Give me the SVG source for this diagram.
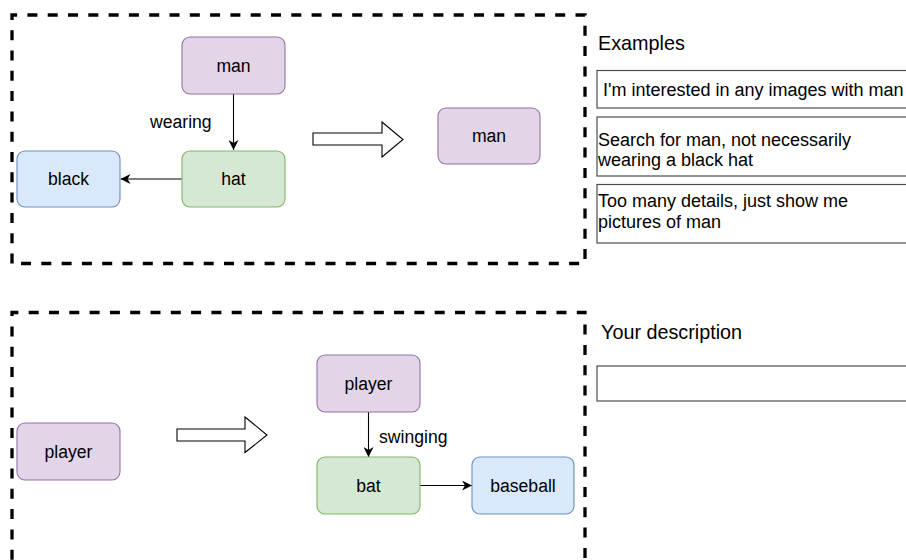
<svg xmlns="http://www.w3.org/2000/svg" width="906" height="560" viewBox="0 0 906 560">
<defs>
<marker id="arr" viewBox="0 0 10 10" refX="10" refY="5" markerWidth="10" markerHeight="10" markerUnits="userSpaceOnUse" orient="auto">
<path d="M0,0 L10,5 L0,10 L3,5 Z" fill="#000"/>
</marker>
<style>
text{font-family:"Liberation Sans",Arial,Helvetica,sans-serif;font-size:17.6px;fill:#000}
.c{text-anchor:middle}
.h{font-size:19.8px}
.s{font-size:18px}
.frame{fill:none;stroke:#000;stroke-width:3.3;stroke-dasharray:10 10.3}
.purple{fill:#e1d5e7;stroke:#9673a6;stroke-width:1.1}
.green{fill:#d5e8d4;stroke:#82b366;stroke-width:1.1}
.blue{fill:#dae8fc;stroke:#6c8ebf;stroke-width:1.1}
.tb{fill:#fff;stroke:#4d4d4d;stroke-width:1.2}
.edge{fill:none;stroke:#000;stroke-width:1.1;marker-end:url(#arr)}
.big{fill:#fff;stroke:#000;stroke-width:1.1}
</style>
</defs>
<rect width="906" height="560" fill="#fff"/>

<g id="frame-top"><path class="frame" d="M12,263.5 V15 H585 V263.5 Z"/></g>
<g id="frame-bottom"><path class="frame" d="M12,580 V312.5 H585 V580"/></g>

<g id="connectors">
<line class="edge" x1="233.5" y1="94" x2="233.5" y2="150"/>
<line class="edge" x1="182" y1="179" x2="120.5" y2="179"/>
<line class="edge" x1="368.5" y1="412" x2="368.5" y2="457"/>
<line class="edge" x1="420" y1="485.5" x2="472" y2="485.5"/>
<polygon class="big" points="313,133 382,133 382,122 403,139.5 382,157 382,145 313,145"/>
<polygon class="big" points="177,429 245,429 245,417 267,435 245,452.5 245,441 177,441"/>
<text x="150" y="128">wearing</text>
<text x="379" y="443">swinging</text>
</g>

<g id="node-man"><rect class="purple" x="182" y="37" width="103" height="57" rx="8"/><text class="c" x="233.5" y="71.5">man</text></g>
<g id="node-hat"><rect class="green" x="182" y="151" width="103" height="56" rx="8"/><text class="c" x="233.5" y="185">hat</text></g>
<g id="node-black"><rect class="blue" x="17" y="151" width="103" height="56" rx="8"/><text class="c" x="68.5" y="185">black</text></g>
<g id="node-man2"><rect class="purple" x="438" y="108" width="102" height="56" rx="8"/><text class="c" x="489" y="142">man</text></g>

<g id="node-player-left"><rect class="purple" x="17" y="423" width="103" height="57" rx="8"/><text class="c" x="68.5" y="457.5">player</text></g>
<g id="node-player"><rect class="purple" x="317" y="355" width="103" height="57" rx="8"/><text class="c" x="368.5" y="389.5">player</text></g>
<g id="node-bat"><rect class="green" x="317" y="457" width="103" height="57" rx="8"/><text class="c" x="368.5" y="491.5">bat</text></g>
<g id="node-baseball"><rect class="blue" x="472" y="457" width="102" height="57" rx="8"/><text class="c" x="523" y="491.5">baseball</text></g>

<g id="examples">
<text class="h" x="598" y="50">Examples</text>
<rect class="tb" x="597" y="70.5" width="330" height="37.5"/>
<text class="s" x="603" y="96">I'm interested in any images with man</text>
<rect class="tb" x="597" y="117" width="330" height="59"/>
<text class="s" x="598" y="145.5">Search for man, not necessarily</text>
<text class="s" x="598" y="166">wearing a black hat</text>
<rect class="tb" x="597" y="184.5" width="330" height="58.5"/>
<text class="s" x="598" y="207">Too many details, just show me</text>
<text class="s" x="598" y="228">pictures of man</text>
</g>

<g id="description">
<text class="h" x="601" y="339">Your description</text>
<rect class="tb" x="597" y="366" width="330" height="35"/>
</g>
</svg>
